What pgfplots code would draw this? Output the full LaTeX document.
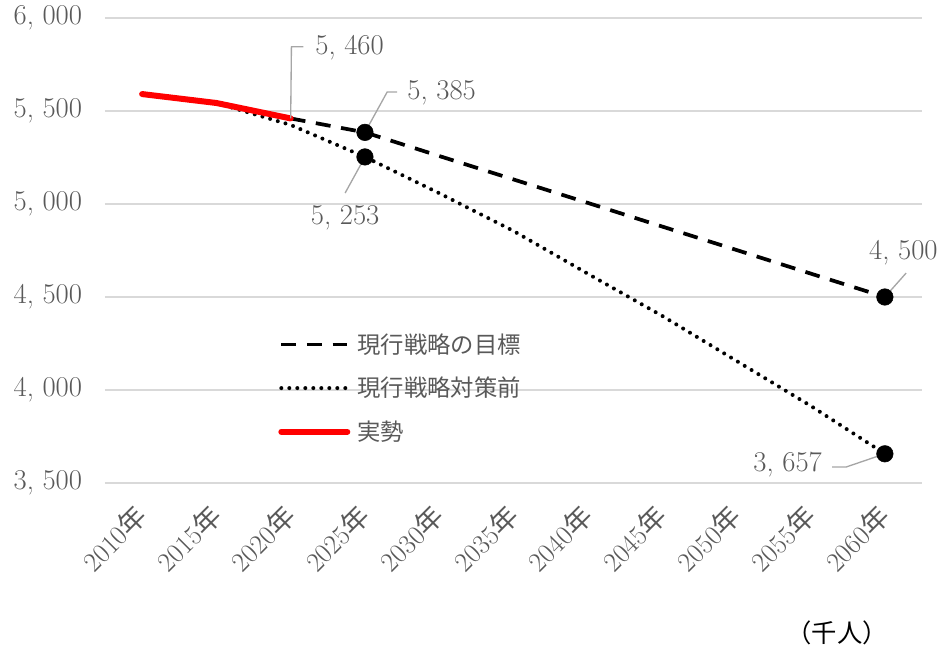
\documentclass[border=0pt]{standalone}
\usepackage{fontspec}
\usepackage{pgfplots}
\pgfplotsset{compat=1.18}
\newfontfamily\jp{Noto Sans CJK JP}
\definecolor{txt}{RGB}{89,89,89}
\definecolor{gridc}{RGB}{217,217,217}
\definecolor{lead}{RGB}{166,166,166}
\definecolor{redl}{RGB}{255,0,0}
\newcommand{\nf}{\fontsize{21.5}{25}\selectfont}
\newcommand{\xf}{\fontsize{20.5}{24}\selectfont}
\newcommand{\lf}{\jp\fontsize{17.5}{21}\selectfont}
\begin{document}
\begin{tikzpicture}
\begin{axis}[
  scale only axis, width=612.75pt, height=348.75pt,
  xmin=-0.5, xmax=10.5, ymin=3500, ymax=6000,
  clip=false,
  axis line style={draw=none},
  major tick length=0pt,
  ytick={3500,4000,4500,5000,5500,6000},
  yticklabels={{3,\ 500},{4,\ 000},{4,\ 500},{5,\ 000},{5,\ 500},{6,\ 000}},
  xtick={0,1,2,3,4,5,6,7,8,9,10},
  xticklabels={2010{\jp 年},2015{\jp 年},2020{\jp 年},2025{\jp 年},2030{\jp 年},2035{\jp 年},2040{\jp 年},2045{\jp 年},2050{\jp 年},2055{\jp 年},2060{\jp 年}},
  ymajorgrids, major grid style={gridc, line width=1.1pt},
  yticklabel style={font=\nf, text=txt, anchor=east, inner sep=0pt, xshift=-17pt},
  xticklabel style={font=\xf, text=txt, yshift=-14pt, xshift=-7pt, rotate=45, anchor=north east, inner sep=0pt},
  legend style={draw=none, fill=none, at={(0.2118,0.322)}, anchor=north west, font=\lf, text=txt, row sep=16.5pt, inner sep=0pt, nodes={inner sep=0pt}, /tikz/every odd column/.append style={column sep=5.5pt}},
  legend cell align=left,
  legend image code/.code={\draw[#1] (0pt,0pt) -- (49.5pt,0pt);},
]
\addplot[black, line width=2.8pt, dash pattern=on 11.2pt off 8pt] coordinates {
  (2,5460) (3,5385) (4,5258) (5,5132) (6,5006) (7,4879) (8,4753) (9,4626) (10,4500)};
\addlegendentry{現行戦略の目標}
\addplot[black, line width=3pt, line cap=round, dash pattern=on 0pt off 6pt] coordinates {
  (1,5543) (2,5425) (3,5253) (4,5058) (5,4855) (6,4625) (7,4399) (8,4157) (9,3915) (10,3657)};
\addlegendentry{現行戦略対策前}
\addplot[redl, line width=4.5pt, line cap=round] coordinates {
  (0,5591) (1,5543) (2,5460)};
\addlegendentry{実勢}
\addplot[only marks, mark=*, mark size=6.2pt, black, forget plot] coordinates {
  (3,5385) (10,4500) (3,5253) (10,3657)};
% leader lines and data labels
\draw[lead, line width=1pt] (axis cs:2,5460) -- (axis cs:2.01,5845) -- (axis cs:2.17,5845);
\node[font=\nf, text=txt, anchor=west, inner sep=0pt] at (axis cs:2.329,5839) {5,\ 460};
\draw[lead, line width=1pt] (axis cs:3,5385) -- (axis cs:3.299,5602) -- (axis cs:3.433,5602);
\node[font=\nf, text=txt, anchor=west, inner sep=0pt] at (axis cs:3.568,5597) {5,\ 385};
\draw[lead, line width=1pt] (axis cs:3,5253) -- (axis cs:2.733,5059);
\node[font=\nf, text=txt, inner sep=0pt] at (axis cs:2.733,4925) {5,\ 253};
\draw[lead, line width=1pt] (axis cs:10,4500) -- (axis cs:10.287,4629);
\node[font=\nf, text=txt, inner sep=0pt] at (axis cs:10.25,4737) {4,\ 500};
\draw[lead, line width=1pt] (axis cs:10,3657) -- (axis cs:9.479,3586) -- (axis cs:9.29,3586);
\node[font=\nf, text=txt, anchor=east, inner sep=0pt] at (axis cs:9.156,3597) {3,\ 657};
\node[font=\jp\fontsize{19}{22}\selectfont, text=black, inner sep=0pt] at (axis cs:9.358,2694) {（千人）};
\end{axis}
\path ([shift={(-78.75pt,-126pt)}]current axis.south west) rectangle ([shift={(15pt,13.5pt)}]current axis.north east);
\end{tikzpicture}
\end{document}
